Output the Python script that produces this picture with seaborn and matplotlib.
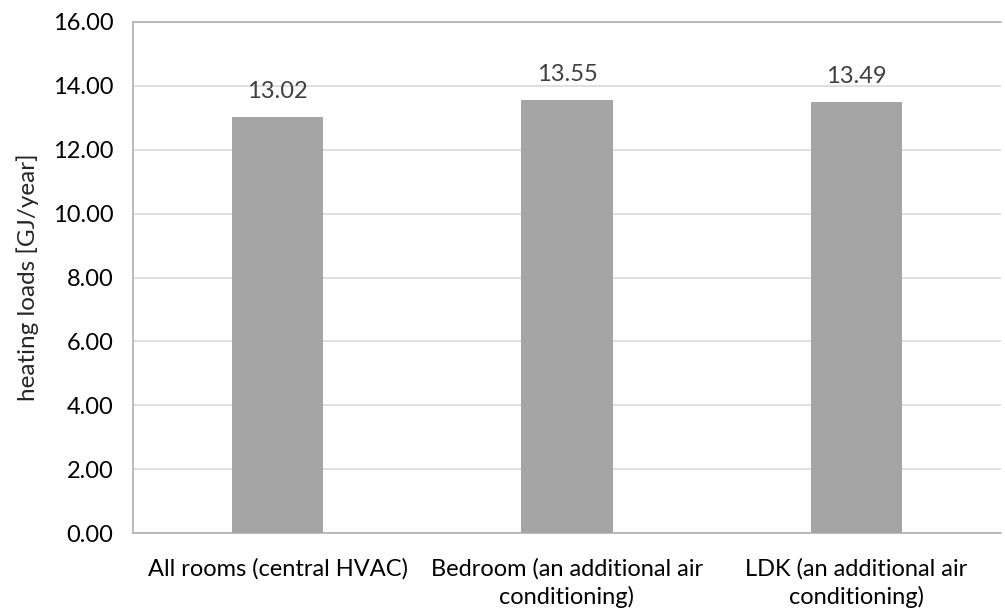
import matplotlib
matplotlib.use("Agg")
import matplotlib.pyplot as plt
import seaborn as sns
import pandas as pd
from matplotlib.ticker import FormatStrFormatter

categories = [
    "All rooms (central HVAC)",
    "Bedroom (an additional air\nconditioning)",
    "LDK (an additional air\nconditioning)",
]
heating_loads = [13.02, 13.55, 13.49]
y_ticks = [0, 2, 4, 6, 8, 10, 12, 14, 16]

df = pd.DataFrame({"case": categories, "load": heating_loads})

sns.set_theme(style="white")
plt.rcParams["font.family"] = ["Lato", "DejaVu Sans"]

fig = plt.figure(figsize=(10.05, 6.15), dpi=100)
ax = fig.add_axes([133 / 1005, 1 - 533 / 615, 868 / 1005, 511 / 615])

sns.barplot(data=df, x="case", y="load", color="#a5a5a5", saturation=1,
            width=0.315, linewidth=0, ax=ax, zorder=3)

ax.set_ylim(0, 16)
ax.set_yticks(y_ticks)
ax.yaxis.set_major_formatter(FormatStrFormatter("%.2f"))
ax.grid(axis="y", color="#d9d9d9", linewidth=1.2, zorder=0)
ax.set_axisbelow(True)

for side in ["top", "right"]:
    ax.spines[side].set_visible(False)
for side in ["left", "bottom"]:
    ax.spines[side].set_color("#b0b0b0")
    ax.spines[side].set_linewidth(1.2)
ax.axhline(16, color="#b0b0b0", linewidth=1.2, zorder=2, clip_on=False)

ax.tick_params(axis="both", length=0, labelsize=17, colors="#000000")
ax.tick_params(axis="y", pad=14)
ax.tick_params(axis="x", pad=18)
for lbl in ax.get_xticklabels():
    lbl.set_linespacing(1.35)
ax.set_xlabel("")
ax.set_ylabel("heating loads [GJ/year]", fontsize=17.5, labelpad=10)

for container in ax.containers:
    ax.bar_label(container, fmt="%.2f", padding=11, fontsize=17, color="#404040")

fig.savefig("out.png", dpi=100)
